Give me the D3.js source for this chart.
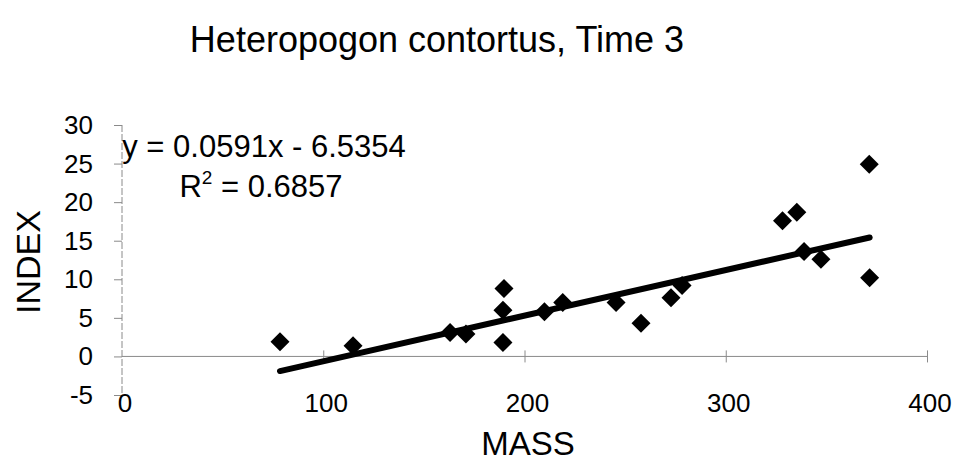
<!DOCTYPE html>
<html>
<head>
<meta charset="utf-8">
<script src="https://cdn.jsdelivr.net/npm/d3@7/dist/d3.min.js"></script>
<style>
  html, body { margin: 0; padding: 0; background: #fff; }
  svg { display: block; font-family: "Liberation Sans", Arial, sans-serif; }
</style>
</head>
<body>
<svg id="chart" width="956" height="463"></svg>
<script>
// Heteropogon contortus, time 3: plant mass against index
const mass  = [78.5, 114.8, 163.0, 170.9, 189.3, 189.3, 189.8, 209.9, 219.0, 245.5,
               257.9, 272.8, 278.3, 328.2, 335.3, 338.9, 347.3, 371.3, 371.5];
const index = [1.9, 1.4, 3.1, 2.9, 1.8, 6.0, 8.8, 5.8, 7.0, 7.0,
               4.3, 7.6, 9.2, 17.6, 18.7, 13.6, 12.6, 24.9, 10.2];

const xTicks = [0, 100, 200, 300, 400];
const yTicks = [-5, 0, 5, 10, 15, 20, 25, 30];

// linear trendline
const slope = 0.0591;
const intercept = -6.5354;
const rSquared = 0.6857;

const svg = d3.select("#chart");

const x = d3.scaleLinear().domain([0, 400]).range([122, 927]);
const y = d3.scaleLinear().domain([-5, 30]).range([395, 125]);

// title
svg.append("text")
  .attr("x", 437).attr("y", 52)
  .attr("text-anchor", "middle")
  .attr("font-size", 36)
  .text("Heteropogon contortus, Time 3");

// vertical axis at x = 0
const yAxis = d3.axisLeft(y).tickValues(yTicks).tickSize(8).tickFormat("");
const gy = svg.append("g").attr("transform", `translate(${x(0)},0)`).call(yAxis);
gy.select(".domain").attr("stroke", "#8a8a8a").attr("stroke-width", 1)
  .attr("stroke-dasharray", "7,2").attr("d", `M0,${y(30)}V${y(-5)}`);
gy.selectAll(".tick line").attr("stroke", "#8a8a8a");

// y tick labels
svg.append("g").selectAll("text")
  .data(yTicks)
  .join("text")
  .attr("x", 93)
  .attr("y", d => y(d) + 9)
  .attr("text-anchor", "end")
  .attr("font-size", 26)
  .text(d => d);

// horizontal axis at y = 0
const xAxis = d3.axisBottom(x).tickValues(xTicks.slice(1)).tickSize(6).tickFormat("");
const gx = svg.append("g").attr("transform", `translate(0,${y(0)})`).call(xAxis);
gx.select(".domain").attr("stroke", "#8a8a8a").attr("stroke-width", 1).attr("d", `M${x(0)},0H${x(400)}`);
gx.selectAll(".tick line").attr("stroke", "#8a8a8a").attr("y1", -6).attr("y2", 6);

// x tick labels below the plot
svg.append("g").selectAll("text")
  .data(xTicks)
  .join("text")
  .attr("x", d => x(d) + 3)
  .attr("y", 412)
  .attr("text-anchor", "middle")
  .attr("font-size", 26)
  .text(d => d);

// axis titles
svg.append("text")
  .attr("x", 528).attr("y", 455)
  .attr("text-anchor", "middle")
  .attr("font-size", 33)
  .text("MASS");

svg.append("text")
  .attr("transform", `translate(40,${262}) rotate(-90)`)
  .attr("text-anchor", "middle")
  .attr("font-size", 34)
  .text("INDEX");

// trendline over the range of the data
const [xmin, xmax] = d3.extent(mass);
svg.append("line")
  .attr("x1", x(xmin)).attr("y1", y(slope * xmin + intercept))
  .attr("x2", x(xmax)).attr("y2", y(slope * xmax + intercept))
  .attr("stroke", "#000")
  .attr("stroke-width", 6)
  .attr("stroke-linecap", "round");

// data points as diamonds
const pts = mass.map((m, i) => ({ m, v: index[i] }));
svg.append("g").selectAll("path")
  .data(pts)
  .join("path")
  .attr("transform", d => `translate(${x(d.m)},${y(d.v)})`)
  .attr("d", "M0,-9.5L9.5,0L0,9.5L-9.5,0Z")
  .attr("fill", "#000");

// equation label
svg.append("text")
  .attr("x", 264).attr("y", 157)
  .attr("text-anchor", "middle")
  .attr("font-size", 31)
  .text(`y = ${slope}x - ${Math.abs(intercept)}`);

const r2 = svg.append("text")
  .attr("x", 261).attr("y", 197)
  .attr("text-anchor", "middle")
  .attr("font-size", 31);
r2.append("tspan").text("R");
r2.append("tspan").attr("font-size", 19).attr("dy", -13).text("2");
r2.append("tspan").attr("dy", 13).text(` = ${rSquared}`);
</script>
</body>
</html>
